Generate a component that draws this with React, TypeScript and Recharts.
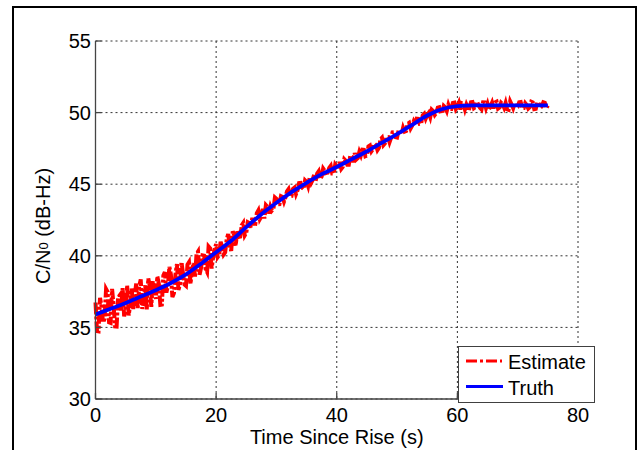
import React from "react";
import { LineChart, Line, XAxis, YAxis, CartesianGrid, Label } from "recharts";

const xTicks = [0, 20, 40, 60, 80];
const yTicks = [30, 35, 40, 45, 50, 55];

const truthTime = [
  0, 2.5, 5, 7.5, 10, 12.5, 15, 17.5, 20, 22.5, 25, 27.5, 30, 32.5, 35, 37.5,
  40, 42.5, 45, 47.5, 50, 52.5, 55, 57.5, 60, 62.5, 65, 67.5, 70, 72.5, 75,
];
const truthValue = [
  35.9, 36.3, 36.7, 37.15, 37.6, 38.1, 38.7, 39.45, 40.25, 41.05, 42.0, 42.9,
  43.7, 44.45, 45.1, 45.7, 46.2, 46.75, 47.3, 47.9, 48.5, 49.15, 49.8, 50.25,
  50.45, 50.5, 50.5, 50.5, 50.5, 50.5, 50.5,
];

// estimate sampled every 0.25 s (0 .. 75 s)
const estimateStep = 0.25;
const estimateValue = [
  36.74, 34.74, 34.72, 37.07, 36.48, 35.35, 35.58, 37.68, 37.48, 35.36,
  35.32, 37.69, 36.52, 35.07, 35.06, 37.1, 37.24, 36.13, 37.74, 35.76,
  36.34, 37.92, 35.83, 36.58, 37.72, 36.28, 37.21, 38.06, 36.34, 37.89,
  38.35, 36.29, 37.0, 37.94, 36.25, 38.42, 37.9, 36.43, 38.23, 37.43,
  37.0, 38.56, 38.06, 36.58, 36.6, 38.63, 38.86, 37.43, 37.88, 39.22,
  38.7, 37.12, 37.38, 38.67, 39.42, 37.62, 37.98, 39.56, 38.82, 37.99,
  37.9, 39.38, 39.55, 38.03, 39.0, 39.48, 38.55, 40.13, 40.3, 38.68,
  39.15, 40.03, 40.01, 39.09, 38.87, 40.65, 40.53, 39.11, 39.89, 40.47,
  40.81, 39.91, 40.06, 40.98, 40.64, 40.09, 40.24, 41.16, 41.52, 40.69,
  40.35, 41.71, 41.45, 40.71, 41.78, 41.32, 41.34, 42.14, 42.3, 41.42,
  41.6, 42.34, 42.28, 41.97, 42.66, 42.25, 42.24, 42.98, 43.17, 42.56,
  42.75, 43.28, 42.61, 43.54, 43.42, 42.95, 43.43, 43.16, 43.29, 44.07,
  43.98, 43.59, 43.6, 44.16, 44.11, 43.78, 44.08, 44.5, 44.65, 44.15,
  44.17, 44.67, 44.76, 44.31, 44.57, 45.08, 45.09, 44.76, 44.66, 45.27,
  45.17, 44.86, 45.43, 45.09, 45.3, 45.67, 45.22, 45.75, 45.9, 45.37,
  45.53, 46.09, 45.94, 45.62, 45.8, 46.14, 46.28, 45.75, 45.75, 46.38,
  46.24, 46.07, 46.56, 46.07, 46.21, 46.75, 46.64, 46.36, 46.36, 47.0,
  46.93, 46.54, 47.18, 46.73, 46.83, 47.26, 47.01, 47.41, 47.4, 46.95,
  46.99, 47.63, 47.7, 47.29, 47.44, 47.83, 47.73, 47.38, 47.54, 48.14,
  48.25, 47.73, 47.85, 48.27, 48.28, 47.93, 48.23, 48.62, 48.63, 48.29,
  48.26, 48.76, 48.72, 48.48, 48.94, 48.67, 48.71, 49.22, 49.29, 48.9,
  49.09, 49.38, 49.16, 49.57, 49.56, 49.22, 49.24, 49.8, 49.91, 49.58,
  49.83, 49.98, 49.68, 50.2, 50.1, 49.84, 49.98, 50.34, 50.37, 49.95,
  49.98, 50.47, 50.37, 50.12, 50.54, 50.25, 50.25, 50.68, 50.7, 50.25,
  50.42, 50.68, 50.22, 50.66, 50.62, 50.22, 50.57, 50.33, 50.31, 50.72,
  50.74, 50.31, 50.38, 50.76, 50.53, 50.34, 50.23, 50.72, 50.71, 50.31,
  50.62, 50.24, 50.44, 50.69, 50.29, 50.72, 50.77, 50.28, 50.35, 50.69,
  50.59, 50.34, 50.68, 50.24, 50.2, 50.79, 50.56, 50.31, 50.65, 50.37,
  50.41, 50.72, 50.74, 50.31, 50.32, 50.66, 50.53, 50.28, 50.38, 50.76,
  50.71, 50.24, 50.26, 50.72, 50.62, 50.34, 50.44, 50.72, 50.68, 50.31,
  50.5,
];

const truthData = truthTime.map((t, i) => ({ t, v: truthValue[i] }));
const estimateData = estimateValue.map((v, i) => ({ t: i * estimateStep, v }));

const FONT = "'Liberation Sans', Arial, sans-serif";
const AXIS = "#454545";
const tickStyle = { fontSize: 20, fill: "#000", fontFamily: FONT };

export default function App() {
  return (
    <div
      style={{
        position: "absolute",
        left: 0,
        top: 0,
        width: 639,
        height: 450,
        overflow: "hidden",
        background: "#fff",
        fontFamily: FONT,
      }}
    >
      <div
        style={{
          position: "absolute",
          left: 12,
          top: 6,
          width: 620.5,
          height: 470,
          border: "2px solid #000",
        }}
      />
      <div style={{ position: "absolute", left: 0, top: 0 }}>
        <LineChart
          width={639}
          height={450}
          margin={{ top: 41, right: 61, bottom: 0, left: 35 }}
        >
          <CartesianGrid stroke="#333" strokeDasharray="2 3" strokeWidth={1} />
          <XAxis
            dataKey="t"
            type="number"
            domain={[0, 80]}
            ticks={xTicks}
            interval={0}
            height={51}
            tickSize={-6}
            tickMargin={15}
            tick={tickStyle}
            axisLine={{ stroke: AXIS, strokeWidth: 1.3 }}
            tickLine={{ stroke: AXIS, strokeWidth: 1.3 }}
          >
            <Label
              content={(p: any) => {
                const vb = p.viewBox || { x: 95, y: 399, width: 483, height: 51 };
                return (
                  <text
                    x={vb.x + vb.width / 2}
                    y={vb.y + 45}
                    textAnchor="middle"
                    fontSize={20}
                    fontFamily={FONT}
                    fill="#000"
                  >
                    Time Since Rise (s)
                  </text>
                );
              }}
            />
          </XAxis>
          <XAxis
            xAxisId="top"
            orientation="top"
            type="number"
            domain={[0, 80]}
            ticks={xTicks}
            interval={0}
            height={0}
            tick={false}
            tickSize={-6}
            axisLine={{ stroke: AXIS, strokeWidth: 1.3 }}
            tickLine={{ stroke: AXIS, strokeWidth: 1.3 }}
          />
          <YAxis
            type="number"
            domain={[30, 55]}
            ticks={yTicks}
            interval={0}
            width={60.5}
            tickSize={-6}
            tickMargin={10.5}
            tick={tickStyle}
            axisLine={{ stroke: AXIS, strokeWidth: 1.3 }}
            tickLine={{ stroke: AXIS, strokeWidth: 1.3 }}
          >
            <Label
              content={(p: any) => {
                const vb = p.viewBox || { x: 35, y: 41, width: 60.5, height: 358 };
                const cx = vb.x + 15;
                const cy = vb.y + vb.height / 2 + 6;
                return (
                  <text
                    transform={`translate(${cx},${cy}) rotate(-90)`}
                    textAnchor="middle"
                    fontSize={20}
                    fontFamily={FONT}
                    fill="#000"
                  >
                    C/N
                    <tspan fontSize={13} dy={-2}>
                      0
                    </tspan>
                    <tspan dy={2}> (dB-Hz)</tspan>
                  </text>
                );
              }}
            />
          </YAxis>
          <YAxis
            yAxisId="right"
            orientation="right"
            type="number"
            domain={[30, 55]}
            ticks={yTicks}
            interval={0}
            width={0}
            tick={false}
            tickSize={-6}
            axisLine={{ stroke: AXIS, strokeWidth: 1.3 }}
            tickLine={{ stroke: AXIS, strokeWidth: 1.3 }}
          />
          <Line
            data={estimateData}
            dataKey="v"
            type="linear"
            stroke="#ff0000"
            strokeWidth={4}
            strokeDasharray="12 2 3 2"
            dot={false}
            activeDot={false}
            isAnimationActive={false}
          />
          <Line
            data={truthData}
            dataKey="v"
            type="monotone"
            stroke="#0000ff"
            strokeWidth={3.8}
            dot={false}
            activeDot={false}
            isAnimationActive={false}
          />
        </LineChart>
      </div>
      <svg
        width={137}
        height={57}
        style={{ position: "absolute", left: 457.5, top: 345.5 }}
      >
        <rect x={0.5} y={0.5} width={136} height={56} fill="#fff" stroke="#404040" strokeWidth={1} />
        <line x1={8} x2={44} y1={15} y2={15} stroke="#ff0000" strokeWidth={3} strokeDasharray="11 3 3 3" />
        <text x={50} y={22.5} fontSize={20} fontFamily={FONT} fill="#000">
          Estimate
        </text>
        <line x1={8} x2={45} y1={40.5} y2={40.5} stroke="#0000ff" strokeWidth={3} />
        <text x={50} y={48.5} fontSize={20} fontFamily={FONT} fill="#000">
          Truth
        </text>
      </svg>
    </div>
  );
}
